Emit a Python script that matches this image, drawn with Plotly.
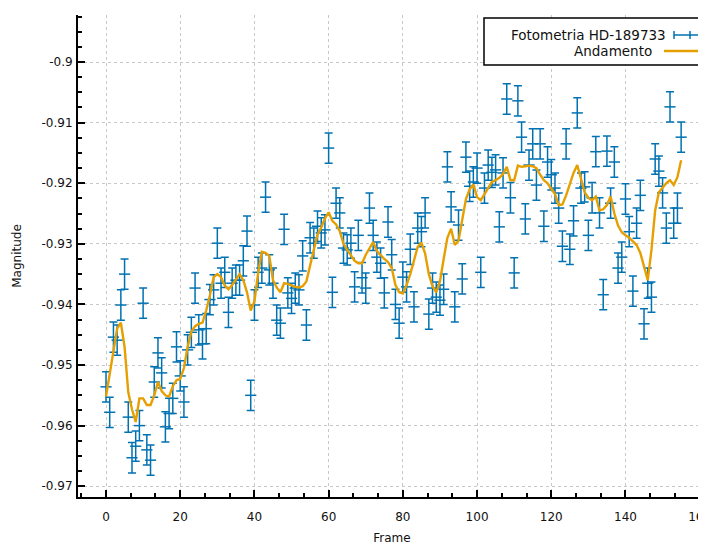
import plotly.graph_objects as go

frames = list(range(156))

magnitude = [
    -0.9536, -0.9578, -0.9454, -0.9459, -0.9401, -0.9350, -0.9586, -0.9653, -0.9634, -0.9600,
    -0.9398, -0.9640, -0.9657, -0.9528, -0.9480, -0.9513, -0.9602, -0.9580, -0.9555, -0.9470,
    -0.9518, -0.9561, -0.9475, -0.9446, -0.9373, -0.9442, -0.9465, -0.9440, -0.9392, -0.9376,
    -0.9299, -0.9365, -0.9347, -0.9413, -0.9365, -0.9360, -0.9360, -0.9328, -0.9279, -0.9550,
    -0.9401, -0.9347, -0.9340, -0.9223, -0.9343, -0.9365, -0.9426, -0.9431, -0.9276, -0.9381,
    -0.9390, -0.9373, -0.9376, -0.9320, -0.9434, -0.9290, -0.9299, -0.9271, -0.9282, -0.9277,
    -0.9142, -0.9380, -0.9233, -0.9249, -0.9307, -0.9310, -0.9299, -0.9371, -0.9286, -0.9356,
    -0.9373, -0.9241, -0.9286, -0.9322, -0.9332, -0.9381, -0.9264, -0.9318, -0.9400, -0.9431,
    -0.9355, -0.9371, -0.9309, -0.9404, -0.9274, -0.9280, -0.9249, -0.9416, -0.9373, -0.9388,
    -0.9393, -0.9375, -0.9173, -0.9239, -0.9404, -0.9269, -0.9358, -0.9157, -0.9205, -0.9198,
    -0.9175, -0.9347, -0.9208, -0.9170, -0.9182, -0.9178, -0.9272, -0.9183, -0.9061, -0.9224,
    -0.9348, -0.9064, -0.9124, -0.9259, -0.9170, -0.9135, -0.9203, -0.9135, -0.9271, -0.9165,
    -0.9186, -0.9208, -0.9241, -0.9304, -0.9135, -0.9309, -0.9262, -0.9084, -0.9208, -0.9206,
    -0.9286, -0.9224, -0.9148, -0.9249, -0.9384, -0.9147, -0.9233, -0.9165, -0.9340, -0.9322,
    -0.9226, -0.9280, -0.9378, -0.9266, -0.9220, -0.9432, -0.9365, -0.9388, -0.9160, -0.9180,
    -0.9216, -0.9274, -0.9074, -0.9266, -0.9241, -0.9124,
]

magnitude_error = 0.0025

trend = [
    -0.9552, -0.9515, -0.9478, -0.9440, -0.9430, -0.9470, -0.9545, -0.9573, -0.9594, -0.9555,
    -0.9555, -0.9566, -0.9566, -0.9550, -0.9528, -0.9543, -0.9550, -0.9552, -0.9535, -0.9525,
    -0.9523, -0.9505, -0.9470, -0.9445, -0.9436, -0.9432, -0.9430, -0.9410, -0.9385, -0.9355,
    -0.9350, -0.9355, -0.9369, -0.9375, -0.9368, -0.9358, -0.9350, -0.9360, -0.9380, -0.9410,
    -0.9395, -0.9348, -0.9313, -0.9315, -0.9320, -0.9360, -0.9372, -0.9380, -0.9365, -0.9366,
    -0.9369, -0.9371, -0.9372, -0.9370, -0.9362, -0.9338, -0.9310, -0.9285, -0.9273, -0.9258,
    -0.9248, -0.9262, -0.9268, -0.9279, -0.9300, -0.9310, -0.9320, -0.9328, -0.9332, -0.9332,
    -0.9318, -0.9308, -0.9297, -0.9312, -0.9319, -0.9325, -0.9330, -0.9340, -0.9368, -0.9380,
    -0.9382, -0.9368, -0.9350, -0.9326, -0.9305, -0.9298, -0.9316, -0.9350, -0.9370, -0.9380,
    -0.9362, -0.9325, -0.9290, -0.9275, -0.9302, -0.9295, -0.9260, -0.9226, -0.9210, -0.9202,
    -0.9223, -0.9228, -0.9218, -0.9208, -0.9198, -0.9195, -0.9191, -0.9185, -0.9173, -0.9195,
    -0.9195, -0.9171, -0.9173, -0.9172, -0.9171, -0.9172, -0.9175, -0.9186, -0.9195, -0.9200,
    -0.9208, -0.9218, -0.9236, -0.9235, -0.9220, -0.9202, -0.9183, -0.9170, -0.9195, -0.9215,
    -0.9224, -0.9228, -0.9222, -0.9245, -0.9243, -0.9236, -0.9222, -0.9250, -0.9270, -0.9281,
    -0.9286, -0.9290, -0.9296, -0.9302, -0.9315, -0.9340, -0.9360, -0.9310, -0.9245, -0.9215,
    -0.9208, -0.9200, -0.9195, -0.9203, -0.9190, -0.9162,
]

x_tick_vals = [0, 20, 40, 60, 80, 100, 120, 140, 160]
x_tick_text = ["0", "20", "40", "60", "80", "100", "120", "140", "160"]
y_tick_vals = [-0.90, -0.91, -0.92, -0.93, -0.94, -0.95, -0.96, -0.97]
y_tick_text = ["-0.9", "-0.91", "-0.92", "-0.93", "-0.94", "-0.95", "-0.96", "-0.97"]

series_names = ["Fotometria HD-189733", "Andamento"]
x_title = "Frame"
y_title = "Magnitude"

BLUE = "#0072b2"
ORANGE = "#e69f00"
FONT = "DejaVu Sans"

# the page body has an 8px margin; figure sized so it fills the 706x545 window
OFF = 8
W, H = 698, 537
ML, MR, MT, MB = 70, 0, 7, 48
PW = W - ML - MR
PH = H - MT - MB


def px(xs):
    """screen x -> paper x"""
    return (xs - OFF - ML) / PW


def py(ys):
    """screen y -> paper y"""
    return (H - MB - (ys - OFF)) / PH


fig = go.Figure()

fig.add_trace(go.Scatter(
    x=frames, y=magnitude, mode="markers", name=series_names[0],
    marker=dict(symbol="line-ew-open", size=8, color=BLUE,
                line=dict(color=BLUE, width=1.5)),
    error_y=dict(type="constant", value=magnitude_error, color=BLUE,
                 thickness=1.5, width=4),
    showlegend=False,
))

fig.add_trace(go.Scatter(
    x=frames, y=trend, mode="lines", name=series_names[1],
    line=dict(color=ORANGE, width=2.4),
    showlegend=False,
))

grid = dict(showgrid=True, gridcolor="#c8c8c8", griddash="dot", gridwidth=1)
tick_font = dict(family=FONT, size=12, color="#111")

fig.update_xaxes(
    range=[-7.55, 161.7], tickvals=x_tick_vals, ticktext=x_tick_text,
    ticks="inside", ticklen=7, tickwidth=1.5, tickcolor="black",
    showline=True, linecolor="black", linewidth=2, zeroline=False,
    minor=dict(ticks="inside", ticklen=4, tickwidth=1.5, tickcolor="black",
               dtick=20 / 3, tick0=0, showgrid=False),
    title=dict(text=x_title, font=tick_font, standoff=17),
    tickfont=tick_font, ticklabelstandoff=8, ticklabeloverflow="allow",
    **grid,
)
fig.update_yaxes(
    range=[-0.97178, -0.89224], tickvals=y_tick_vals, ticktext=y_tick_text,
    ticks="inside", ticklen=7, tickwidth=1.5, tickcolor="black",
    showline=True, linecolor="black", linewidth=2, zeroline=False,
    minor=dict(ticks="inside", ticklen=4, tickwidth=1.5, tickcolor="black",
               dtick=0.0025, tick0=-0.9, showgrid=False),
    title=dict(text=y_title, font=tick_font, standoff=17),
    tickfont=tick_font, ticklabelstandoff=1,
    **grid,
)

# legend box in the style of the original (text right-aligned, sample on the right)
shapes = [
    dict(type="rect", xref="paper", yref="paper", x0=px(484), x1=px(716),
         y0=py(65), y1=py(18), line=dict(color="black", width=1.5),
         fillcolor="white", layer="above"),
    dict(type="line", xref="paper", yref="paper", x0=px(674), x1=px(716),
         y0=py(35), y1=py(35), line=dict(color=BLUE, width=1.5), layer="above"),
    dict(type="line", xref="paper", yref="paper", x0=px(674), x1=px(674),
         y0=py(31), y1=py(39), line=dict(color=BLUE, width=1.5), layer="above"),
    dict(type="line", xref="paper", yref="paper", x0=px(690), x1=px(690),
         y0=py(31), y1=py(39), line=dict(color=BLUE, width=1.5), layer="above"),
    dict(type="line", xref="paper", yref="paper", x0=px(664), x1=px(716),
         y0=py(51), y1=py(51), line=dict(color=ORANGE, width=2.5), layer="above"),
]
annotations = [
    dict(text=series_names[0], xref="paper", yref="paper", x=px(668), y=py(35),
         xanchor="right", yanchor="middle", showarrow=False,
         font=dict(family=FONT, size=13.5, color="#111")),
    dict(text=series_names[1], xref="paper", yref="paper", x=px(654), y=py(51),
         xanchor="right", yanchor="middle", showarrow=False,
         font=dict(family=FONT, size=13.5, color="#111")),
]

fig.update_layout(
    width=W, height=H,
    margin=dict(l=ML, r=MR, t=MT, b=MB, autoexpand=False),
    paper_bgcolor="white", plot_bgcolor="white",
    shapes=shapes, annotations=annotations,
    showlegend=False,
    font=dict(family=FONT, size=12, color="#111"),
)

fig.write_html("out.html")
